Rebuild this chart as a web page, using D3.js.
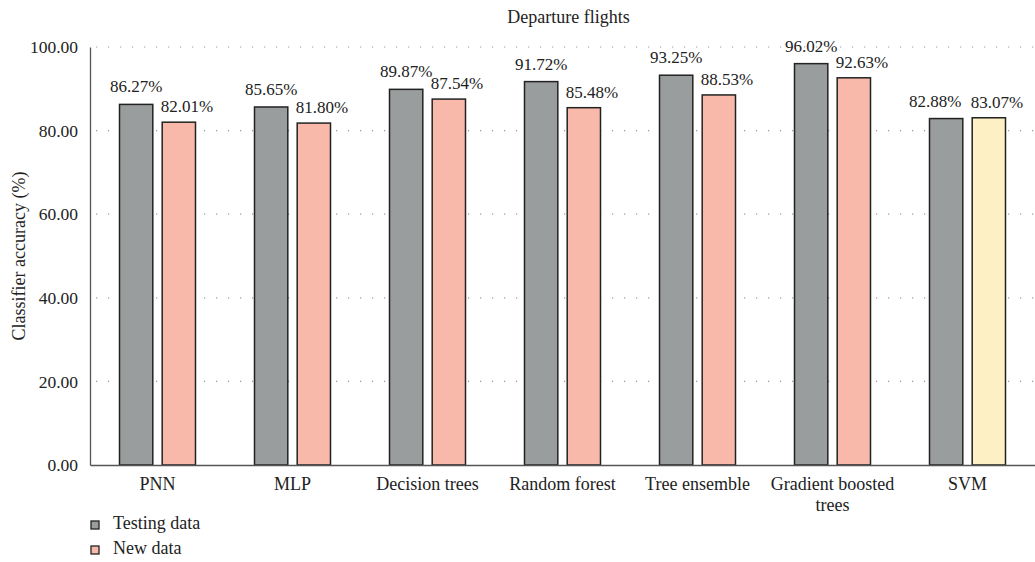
<!DOCTYPE html>
<html>
<head>
<meta charset="utf-8">
<script src="https://cdn.jsdelivr.net/npm/d3@7"></script>
<style>
  body { margin: 0; background: #fff; }
  text { font-family: "Liberation Serif", "DejaVu Serif", serif; fill: #222; }
</style>
</head>
<body>
<div id="chart"></div>
<script>
// data
const categories = ['PNN', 'MLP', 'Decision trees', 'Random forest', 'Tree ensemble', 'Gradient boosted trees', 'SVM']
const testingData = [86.27, 85.65, 89.87, 91.72, 93.25, 96.02, 82.88]
const newData = [82.01, 81.80, 87.54, 85.48, 88.53, 92.63, 83.07]
const seriesNames = ['Testing data', 'New data']
const yTicks = [0, 20, 40, 60, 80, 100]

const colors = {
  'Testing data': '#9a9d9d',
  'New data': '#f8b9aa'
}
// SVM's new-data bar is drawn in a pale yellow in the original
const svmColor = '#fdf0c4'

const W = 1035, H = 562
const margin = {top: 47, right: 0, bottom: 97, left: 90}
const width = W - margin.left - margin.right
const height = H - margin.top - margin.bottom

const svg = d3.select('#chart')
  .append('svg')
    .attr('width', W)
    .attr('height', H)

const g = svg.append('g')
    .attr('transform', 'translate(' + margin.left + ',' + margin.top + ')')

const x = d3.scaleBand()
    .domain(categories)
    .range([0, width])

const x1 = d3.scaleBand()
    .domain(seriesNames)
    .range([x.bandwidth() / 2 - 38, x.bandwidth() / 2 + 38])
    .paddingInner(0.22)

const y = d3.scaleLinear()
    .domain([0, 100])
    .range([height, 0])

// dotted grid
g.selectAll('.grid')
  .data(yTicks.filter(d => d > 0))
  .enter().append('line')
    .attr('class', 'grid')
    .attr('x1', 0)
    .attr('x2', width)
    .attr('y1', d => y(d))
    .attr('y2', d => y(d))
    .attr('stroke', '#999')
    .attr('stroke-width', 1.2)
    .attr('stroke-dasharray', '1.2,10.8')
    .attr('stroke-dashoffset', -6)

// bars
const rows = categories.map((c, i) => ({
  cat: c,
  values: [
    {key: 'Testing data', value: testingData[i]},
    {key: 'New data', value: newData[i]}
  ]
}))

const groups = g.selectAll('.cat')
  .data(rows)
  .enter().append('g')
    .attr('class', 'cat')
    .attr('transform', d => 'translate(' + x(d.cat) + ',0)')

groups.selectAll('rect')
  .data(d => d.values.map(v => Object.assign({cat: d.cat}, v)))
  .enter().append('rect')
    .attr('x', d => x1(d.key))
    .attr('y', d => y(d.value))
    .attr('width', x1.bandwidth())
    .attr('height', d => y(0) - y(d.value))
    .attr('fill', d => (d.cat === 'SVM' && d.key === 'New data') ? svmColor : colors[d.key])
    .attr('stroke', '#222')
    .attr('stroke-width', 1.5)

groups.selectAll('.lbl')
  .data(d => d.values.map(v => Object.assign({cat: d.cat}, v)))
  .enter().append('text')
    .attr('class', 'lbl')
    .attr('x', d => x1(d.key) + x1.bandwidth() / 2 + (d.key === 'New data' ? 8 : (d.cat === 'SVM' ? -11 : 0)))
    .attr('y', d => y(d.value) - (d.key === 'New data' ? 10 : 12))
    .attr('text-anchor', 'middle')
    .style('font-size', '17px')
    .text(d => d.value.toFixed(2) + '%')

// axes
const yAxis = g.append('g')
    .call(d3.axisLeft(y).tickValues(yTicks).tickFormat(d => d.toFixed(2)).tickSize(0).tickPadding(12))
yAxis.select('.domain').attr('stroke', '#555').attr('stroke-width', 1.3)
yAxis.selectAll('text').style('font-size', '17.5px')

const xAxis = g.append('g')
    .attr('transform', 'translate(0,' + height + ')')
    .call(d3.axisBottom(x).tickSize(0).tickPadding(12))
xAxis.select('.domain').attr('stroke', '#555').attr('stroke-width', 1.3)
xAxis.selectAll('text')
    .style('font-size', '18px')
    .each(function(d) {
      // wrap "Gradient boosted trees" onto two lines like the original
      if (d === 'Gradient boosted trees') {
        const t = d3.select(this)
        const dy = t.attr('dy')
        t.text(null)
        t.append('tspan').attr('x', 0).attr('dy', dy).text('Gradient boosted')
        t.append('tspan').attr('x', 0).attr('dy', '1.2em').text('trees')
      }
    })

// title
svg.append('text')
    .attr('x', margin.left + width / 2 + 6)
    .attr('y', 23)
    .attr('text-anchor', 'middle')
    .style('font-size', '18px')
    .text('Departure flights')

// y label
svg.append('text')
    .attr('transform', 'translate(25,' + (margin.top + height / 2) + ') rotate(-90)')
    .attr('text-anchor', 'middle')
    .style('font-size', '18px')
    .text('Classifier accuracy (%)')

// legend
const legend = svg.selectAll('.legend')
  .data(seriesNames)
  .enter().append('g')
    .attr('class', 'legend')
    .attr('transform', (d, i) => 'translate(' + (margin.left + 1) + ',' + (521 + i * 25) + ')')
legend.append('rect')
    .attr('width', 8)
    .attr('height', 8)
    .attr('fill', d => colors[d])
    .attr('stroke', '#222')
    .attr('stroke-width', 1.3)
legend.append('text')
    .attr('x', 22)
    .attr('y', 8)
    .style('font-size', '18px')
    .text(d => d)
</script>
</body>
</html>
